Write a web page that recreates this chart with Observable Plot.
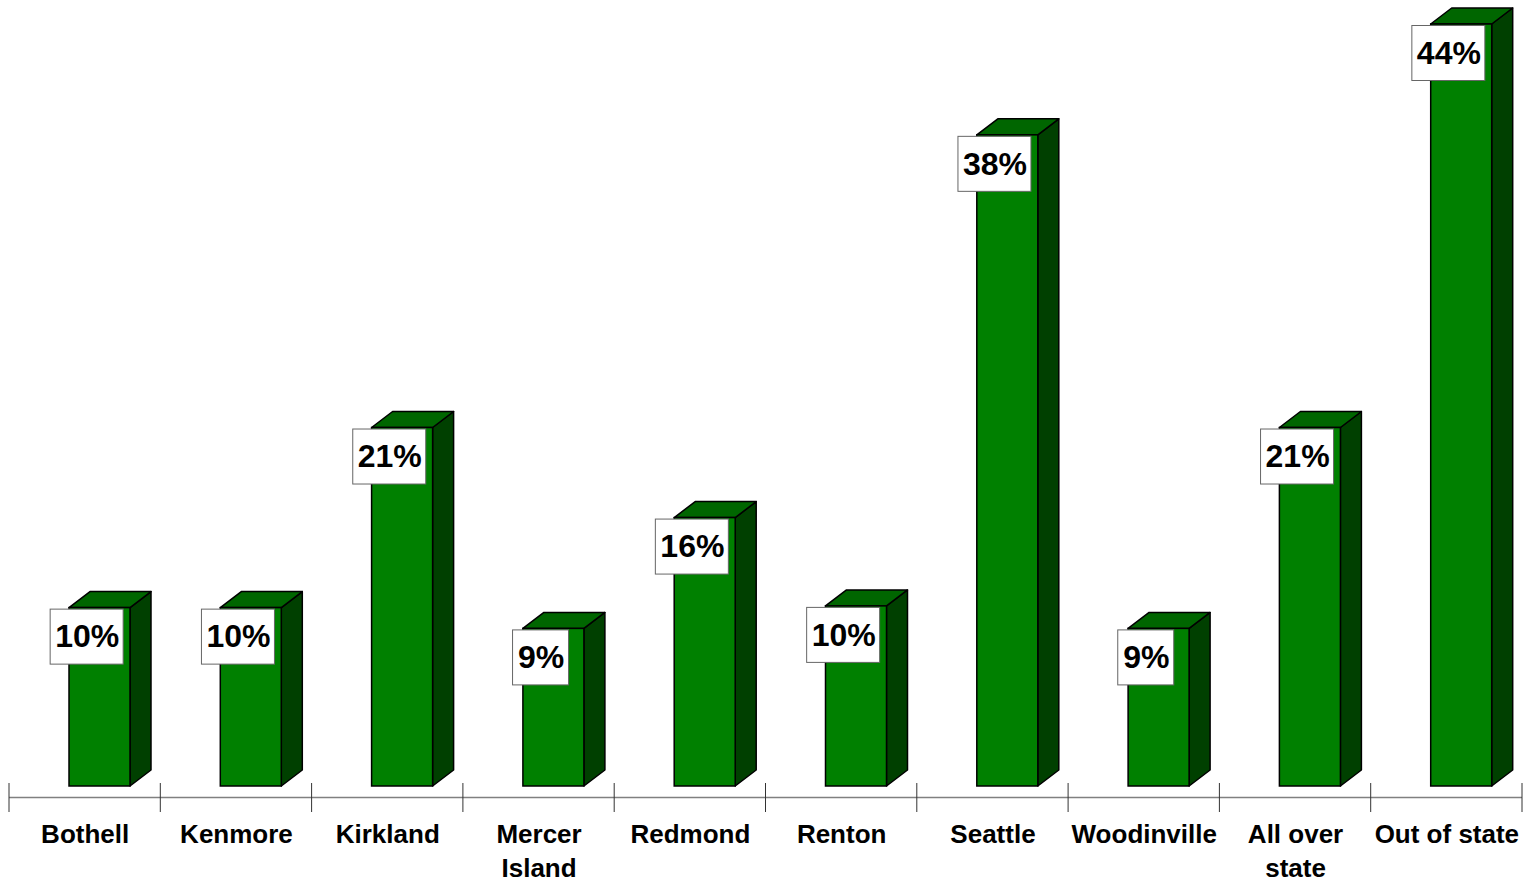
<!DOCTYPE html>
<html><head><meta charset="utf-8">
<script src="https://cdn.jsdelivr.net/npm/d3@7"></script>
<script src="https://cdn.jsdelivr.net/npm/@observablehq/plot@0.6"></script>
<style>html,body{margin:0;padding:0;background:#fff;} svg{display:block}</style>
</head><body><div id="chart"></div>
<script>
// ---- data ----
const categories = ["Bothell", "Kenmore", "Kirkland", "Mercer\nIsland", "Redmond", "Renton", "Seattle", "Woodinville", "All over\nstate", "Out of state"];
const values = [10.3, 10.3, 20.7, 9.1, 15.5, 10.4, 37.6, 9.1, 20.7, 44.0];
const valueLabels = ["10%", "10%", "21%", "9%", "16%", "10%", "38%", "9%", "21%", "44%"];

const data = categories.map((c, i) => ({category: c, value: values[i], label: valueLabels[i]}));

// ---- layout ----
const W = 1528, H = 883;
const X_RANGE = [9, 1522];
const BW = (X_RANGE[1] - X_RANGE[0]) / categories.length;
const FRONT_L = 60, FRONT_R = 121;   // front face offsets within band
const DX = 21, DY = 16;              // 3D depth
const LABEL_DX = 2, LABEL_DY = 29, BOX_H = 55;

function bandwidth(x) {
  return typeof x.bandwidth === "function" ? x.bandwidth() : (x(categories[1]) - x(categories[0]));
}

function faces(index, scales) {
  const {x, y} = scales;
  const g = d3.create("svg:g").attr("stroke", "#000").attr("stroke-width", 1.5).attr("stroke-linejoin", "round");
  for (const d of data) {
    const x0 = x(d.category) + FRONT_L, x1 = x(d.category) + FRONT_R;
    const y0 = y(0), yt = y(d.value);
    g.append("polygon").attr("fill", "#004000")
      .attr("points", [[x1, y0], [x1 + DX, y0 - DY], [x1 + DX, yt - DY], [x1, yt]].join(" "));
    g.append("polygon").attr("fill", "#006600")
      .attr("points", [[x0, yt], [x0 + DX, yt - DY], [x1 + DX, yt - DY], [x1, yt]].join(" "));
  }
  return g.node();
}

function axis(index, scales) {
  const {x, y} = scales;
  const bw = bandwidth(x);
  const yA = y(0) + 11.5;
  const g = d3.create("svg:g");
  const x0 = x(categories[0]), xN = x(categories[categories.length - 1]) + bw;
  g.append("line").attr("x1", x0).attr("x2", xN).attr("y1", yA).attr("y2", yA)
    .attr("stroke", "#808080").attr("stroke-width", 1.5);
  const ticks = categories.map(c => x(c)).concat([xN]);
  for (const t of ticks) {
    g.append("line").attr("x1", t).attr("x2", t).attr("y1", yA - 14.5).attr("y2", yA + 14.5)
      .attr("stroke", "#333").attr("stroke-width", 1);
  }
  return g.node();
}

function boxes(index, scales) {
  const {x, y} = scales;
  const bw = bandwidth(x);
  const g = d3.create("svg:g");
  for (const d of data) {
    const w = 17 * d.label.length + 22;
    const cx = x(d.category) + bw / 2 + LABEL_DX;
    const cy = y(d.value) + LABEL_DY;
    g.append("rect").attr("x", cx - w / 2).attr("y", cy - BOX_H / 2).attr("width", w).attr("height", BOX_H)
      .attr("fill", "#fff").attr("stroke", "#666").attr("stroke-width", 1);
  }
  return g.node();
}

const chart = Plot.plot({
  width: W,
  height: H,
  margin: 0,
  x: {type: "band", domain: categories, range: X_RANGE, padding: 0, round: false, axis: null},
  y: {domain: [0, 44], range: [786, 24], axis: null},
  style: {fontFamily: "'Liberation Sans', Arial, sans-serif", background: "#fff"},
  marks: [
    faces,
    Plot.barY(data, {x: "category", y: "value", fill: "#008000", stroke: "#000", strokeWidth: 1.5,
      insetLeft: FRONT_L, insetRight: BW - FRONT_R}),
    axis,
    boxes,
    Plot.text(data, {x: "category", y: "value", text: "label", dx: LABEL_DX, dy: LABEL_DY,
      fontSize: 32, fontWeight: "bold", fill: "#000"}),
    Plot.text(categories, {x: d => d, text: d => d, frameAnchor: "bottom", lineAnchor: "top",
      dy: -64.5, fontSize: 26, fontWeight: "bold", lineHeight: 1.31, fill: "#000"})
  ]
});
document.getElementById("chart").appendChild(chart);
</script>
</body></html>
